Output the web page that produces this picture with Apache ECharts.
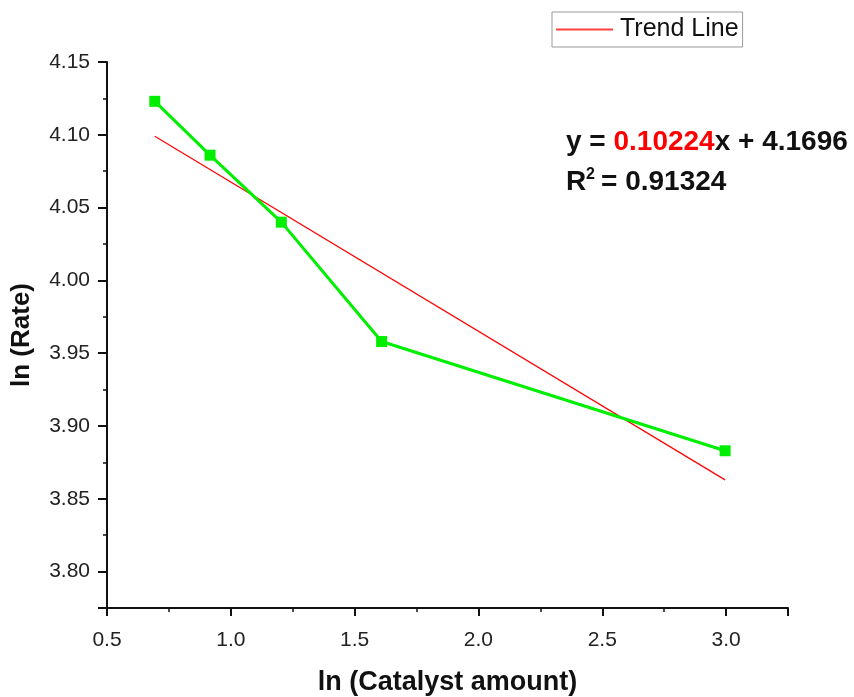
<!DOCTYPE html>
<html>
<head>
<meta charset="utf-8">
<script src="https://cdn.jsdelivr.net/npm/echarts@6/dist/echarts.min.js"></script>
<style>html,body{margin:0;padding:0;background:#fff;}#c{width:854px;height:697px;}</style>
</head>
<body>
<div id="c"></div>
<script>
// Data
var lnCatalyst = [0.693, 0.916, 1.204, 1.609, 2.996];
var lnRate = [4.123, 4.086, 4.040, 3.958, 3.883];
var trendX = [0.693, 2.996];
var trendY = [4.099, 3.863];
var xTitle = 'ln (Catalyst amount)';
var yTitle = 'ln (Rate)';
var legendName = 'Trend Line';
var eqParts = ['y = ', '0.10224', 'x + 4.1696'];
var r2Value = '= 0.91324';

function pairs(xs, ys) { return xs.map(function (x, i) { return [x, ys[i]]; }); }

var FONT = 'Liberation Sans, Arial, sans-serif';
var chart = echarts.init(document.getElementById('c'), null, { renderer: 'canvas' });

var grid = { left: 107, right: 66, top: 62, bottom: 89, containLabel: false, outerBoundsMode: 'none' };

var option = {
  animation: false,
  backgroundColor: '#fff',
  grid: grid,
  legend: {
    data: [{ name: legendName, icon: 'rect' }],
    left: 552, top: 12,
    itemWidth: 57, itemHeight: 2,
    itemGap: 4,
    padding: [5, 4, 5, 4],
    borderColor: '#999', borderWidth: 1,
    textStyle: { fontFamily: FONT, fontSize: 25, color: '#111', padding: [0, 0, 0, 2] }
  },
  xAxis: [
    {
      type: 'value', min: 0.5, max: 3.25, interval: 0.5,
      name: xTitle, nameLocation: 'middle', nameGap: 61,
      nameTextStyle: { fontFamily: FONT, fontSize: 27, fontWeight: 'bold', color: '#111' },
      axisLine: { show: true, lineStyle: { color: '#111', width: 2 } },
      axisTick: { show: true, length: 8, lineStyle: { color: '#111', width: 2 } },
      axisLabel: {
        margin: 22, fontFamily: FONT, fontSize: 21, color: '#222',
        formatter: function (v) { return Math.abs(v * 2 - Math.round(v * 2)) < 1e-6 && v < 3.2 ? v.toFixed(1) : ''; }
      },
      splitLine: { show: false }
    },
    {
      type: 'value', min: 0.5, max: 3.25, interval: 0.25, position: 'bottom',
      axisLine: { show: false },
      axisTick: { show: true, length: 4, lineStyle: { color: '#111', width: 1.5 } },
      axisLabel: { show: false },
      splitLine: { show: false }
    }
  ],
  yAxis: [
    {
      type: 'value', min: 3.775, max: 4.15, minInterval: 0.05, maxInterval: 0.05, splitNumber: 8,
      name: yTitle, nameLocation: 'middle', nameGap: 72,
      nameTextStyle: { fontFamily: FONT, fontSize: 26, fontWeight: 'bold', color: '#111' },
      axisLine: { show: true, lineStyle: { color: '#111', width: 2 } },
      axisTick: { show: true, length: 9, lineStyle: { color: '#111', width: 2 } },
      axisLabel: {
        margin: 17, fontFamily: FONT, fontSize: 21, color: '#222',
        formatter: function (v) { return Math.abs(v * 20 - Math.round(v * 20)) < 1e-6 ? v.toFixed(2) : ''; }
      },
      splitLine: { show: false }
    },
    {
      type: 'value', min: 3.775, max: 4.15, interval: 0.025, position: 'left',
      axisLine: { show: false },
      axisTick: { show: true, length: 4, lineStyle: { color: '#111', width: 1.5 } },
      axisLabel: { show: false },
      splitLine: { show: false }
    }
  ],
  series: [
    {
      name: 'data', type: 'line',
      data: pairs(lnCatalyst, lnRate),
      symbol: 'rect', symbolSize: 11,
      lineStyle: { color: '#00ee00', width: 3 },
      itemStyle: { color: '#00ee00' },
      z: 3
    },
    {
      name: legendName, type: 'line',
      data: pairs(trendX, trendY),
      symbol: 'none',
      lineStyle: { color: '#ff0000', width: 1.2 },
      itemStyle: { color: '#ff4040' },
      z: 2
    }
  ],
  graphic: [
    {
      type: 'text', left: 566, top: 128,
      style: {
        text: '{b|' + eqParts[0] + '}{r|' + eqParts[1] + '}{b|' + eqParts[2] + '}',
        rich: {
          b: { fontFamily: FONT, fontSize: 28, fontWeight: 'bold', fill: '#111' },
          r: { fontFamily: FONT, fontSize: 28, fontWeight: 'bold', fill: '#ff0000' }
        }
      }
    },
    {
      type: 'text', left: 566, top: 168,
      style: { text: 'R', fontFamily: FONT, fontSize: 28, fontWeight: 'bold', fill: '#111' }
    },
    {
      type: 'text', left: 586, top: 167,
      style: { text: '2', fontFamily: FONT, fontSize: 16, fontWeight: 'bold', fill: '#111' }
    },
    {
      type: 'text', left: 601, top: 168,
      style: { text: r2Value, fontFamily: FONT, fontSize: 28, fontWeight: 'bold', fill: '#111' }
    }
  ]
};
chart.setOption(option);
</script>
</body>
</html>
